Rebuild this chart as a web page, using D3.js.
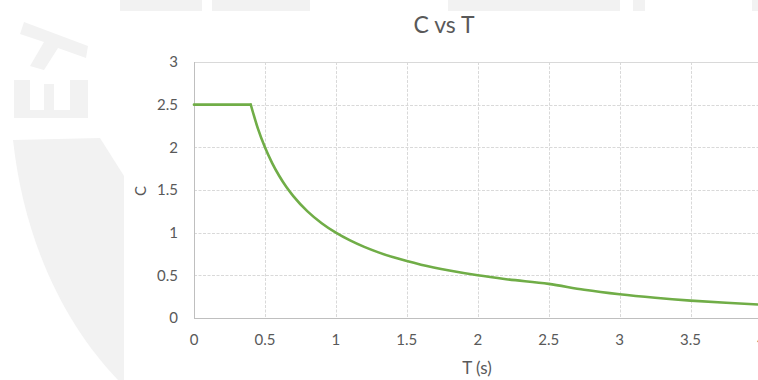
<!DOCTYPE html>
<html>
<head>
<meta charset="utf-8">
<script src="https://cdn.jsdelivr.net/npm/d3@7"></script>
<style>
  body { margin: 0; background: #fff; }
  svg { display: block; }
  text { font-family: Lato, "Open Sans", sans-serif; fill: #595959; }
</style>
</head>
<body>
<div id="chart"></div>
<script>
// -------- C vs T ---------- //

// periods (s) and amplification factor
var periods = [0, 0.1, 0.2, 0.3, 0.4, 0.45, 0.5, 0.55, 0.6, 0.65, 0.7, 0.8, 0.9, 1.0,
  1.1, 1.2, 1.3, 1.4, 1.5, 1.6, 1.8, 2.0, 2.2, 2.5, 2.75, 3.0, 3.25, 3.5, 3.75, 4.0];
var cValues = [2.5, 2.5, 2.5, 2.5, 2.5, 2.222, 2.0, 1.818, 1.667, 1.538, 1.429, 1.25, 1.111, 1.0,
  0.909, 0.833, 0.769, 0.714, 0.667, 0.625, 0.556, 0.5, 0.455, 0.4, 0.331, 0.278, 0.237, 0.204, 0.178, 0.156];

var xTicks = [0, 0.5, 1, 1.5, 2, 2.5, 3, 3.5, 4];
var yTicks = [0, 0.5, 1, 1.5, 2, 2.5, 3];

var width = 758;
var height = 380;
var margin = { top: 62, right: -3.5, bottom: 62, left: 194 };

var svg = d3
  .select("#chart")
  .append("svg")
  .attr("width", width)
  .attr("height", height);

// faint watermark behind the chart
var wm = svg.append("g").attr("fill", "#f2f2f2");
wm.append("path")
  .attr("d", "M13,140 L100,138 L124,176 L124,380 L118,380 C70,330 25,250 13,140 Z");
wm.append("path") // letter E (rotated)
  .attr("d", "M14,80 L30,80 L30,110 L44,110 L44,84 L54,84 L54,110 L70,110 L70,80 L88,80 L88,118 L14,118 Z");
wm.append("path") // letter T (rotated)
  .attr("d", "M24,22 L88,46 L86,58 L58,48 L44,70 L30,66 L44,42 L20,34 Z");
[[120, 202], [212, 310], [448, 620], [633, 645], [752, 758]].forEach(function(b) {
  wm.append("rect").attr("x", b[0]).attr("y", 0).attr("width", b[1] - b[0]).attr("height", 11);
});

// chart area
svg.append("rect")
  .attr("x", 124).attr("y", 11)
  .attr("width", width - 124).attr("height", 368)
  .attr("fill", "#fff");

var x = d3.scaleLinear().domain([0, 4]).range([margin.left, width - margin.right]);
var y = d3.scaleLinear().domain([0, 3]).range([height - margin.bottom, margin.top]);

// gridlines
svg.append("g")
  .selectAll("line")
  .data(yTicks.filter(function(d) { return d > 0; }))
  .join("line")
  .attr("x1", x(0)).attr("x2", x(4))
  .attr("y1", function(d) { return Math.round(y(d)) + 0.5; })
  .attr("y2", function(d) { return Math.round(y(d)) + 0.5; })
  .attr("stroke", "#d9d9d9")
  .attr("stroke-dasharray", function(d) { return d === 3 ? null : "3,1.5"; });

svg.append("g")
  .selectAll("line")
  .data(xTicks.filter(function(d) { return d > 0; }))
  .join("line")
  .attr("x1", function(d) { return Math.round(x(d)) + 0.5; })
  .attr("x2", function(d) { return Math.round(x(d)) + 0.5; })
  .attr("y1", y(3)).attr("y2", y(0))
  .attr("stroke", "#d9d9d9")
  .attr("stroke-dasharray", "3,1.5");

// axes lines
svg.append("line")
  .attr("x1", x(0)).attr("x2", x(4))
  .attr("y1", Math.round(y(0)) + 0.5).attr("y2", Math.round(y(0)) + 0.5)
  .attr("stroke", "#bfbfbf");
svg.append("line")
  .attr("x1", Math.round(x(0)) + 0.5).attr("x2", Math.round(x(0)) + 0.5)
  .attr("y1", y(3)).attr("y2", y(0))
  .attr("stroke", "#bfbfbf");

// tick labels
svg.append("g")
  .selectAll("text")
  .data(yTicks)
  .join("text")
  .attr("x", x(0) - 16)
  .attr("y", function(d) { return y(d); })
  .attr("dy", "0.36em")
  .attr("text-anchor", "end")
  .style("font-size", "15px")
  .text(function(d) { return d; });

svg.append("g")
  .selectAll("text")
  .data(xTicks)
  .join("text")
  .attr("x", function(d) { return x(d); })
  .attr("y", 345)
  .attr("text-anchor", "middle")
  .style("font-size", "15px")
  .text(function(d) { return d; });

// the curve: flat plateau, then smooth decay
var pts = periods.map(function(t, i) { return [t, cValues[i]]; });
var knee = periods.indexOf(0.4);

var flat = d3.line()
  .x(function(d) { return x(d[0]); })
  .y(function(d) { return y(d[1]); });
var decay = d3.line()
  .curve(d3.curveMonotoneX)
  .x(function(d) { return x(d[0]); })
  .y(function(d) { return y(d[1]); });

[flat(pts.slice(0, knee + 1)), decay(pts.slice(knee))].forEach(function(d) {
  svg.append("path")
    .attr("d", d)
    .attr("fill", "none")
    .attr("stroke", "#70ad47")
    .attr("stroke-width", 2.6)
    .attr("stroke-linejoin", "round")
    .attr("stroke-linecap", "round");
});

// titles
svg.append("text")
  .attr("x", 444).attr("y", 33)
  .attr("text-anchor", "middle")
  .style("font-size", "23px")
  .text("C vs T");

svg.append("text")
  .attr("x", 477).attr("y", 374)
  .attr("text-anchor", "middle")
  .style("font-size", "17px")
  .text("T (s)");

svg.append("text")
  .attr("transform", "translate(146,191) rotate(-90)")
  .attr("text-anchor", "middle")
  .style("font-size", "15px")
  .text("C");
</script>
</body>
</html>
